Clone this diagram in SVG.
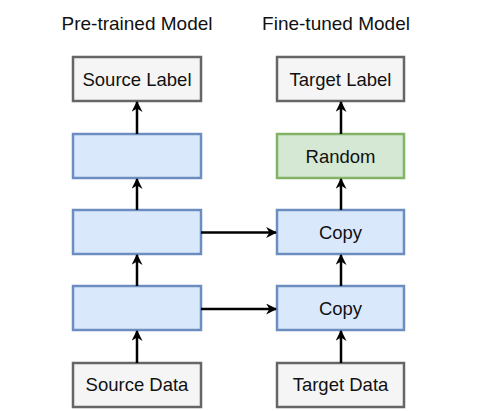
<svg xmlns="http://www.w3.org/2000/svg" width="495" height="411" viewBox="0 0 495 411">
<defs>
<marker id="ah" viewBox="0 0 10 10" refX="9" refY="5" markerWidth="4.4" markerHeight="4.4" orient="auto" markerUnits="strokeWidth">
<path d="M0,0 L10,5 L0,10 L3,5 Z" fill="#000"/>
</marker>
</defs>
<style>
text{font-family:"Liberation Sans",Arial,Helvetica,sans-serif;fill:#111;text-anchor:middle}
.t{font-size:19px}
.l{font-size:18.5px}
.g{fill:#f5f5f5;stroke:#666;stroke-width:2.5}
.b{fill:#dae8fc;stroke:#6c8ebf;stroke-width:2.5}
.gr{fill:#d5e8d4;stroke:#82b366;stroke-width:2.5}
.c{stroke:#000;stroke-width:2.5;fill:none;marker-end:url(#ah)}
</style>
<rect width="495" height="411" fill="#fff"/>
<text class="t" x="137" y="30">Pre-trained Model</text>
<text class="t" x="336" y="30">Fine-tuned Model</text>
<g id="source-label"><rect class="g" x="73" y="57" width="128" height="44"/><text class="l" x="137" y="86">Source Label</text></g>
<g id="pre-l3"><rect class="b" x="73" y="134" width="128" height="44"/></g>
<g id="pre-l2"><rect class="b" x="73" y="210" width="128" height="44"/></g>
<g id="pre-l1"><rect class="b" x="73" y="286" width="128" height="44"/></g>
<g id="source-data"><rect class="g" x="73" y="363" width="128" height="44"/><text class="l" x="137" y="391">Source Data</text></g>
<g id="target-label"><rect class="g" x="277" y="57" width="127" height="44"/><text class="l" x="340.5" y="86">Target Label</text></g>
<g id="random"><rect class="gr" x="277" y="134" width="127" height="44"/><text class="l" x="340.5" y="163">Random</text></g>
<g id="copy2"><rect class="b" x="277" y="210" width="127" height="44"/><text class="l" x="340.5" y="239">Copy</text></g>
<g id="copy1"><rect class="b" x="277" y="286" width="127" height="44"/><text class="l" x="340.5" y="315">Copy</text></g>
<g id="target-data"><rect class="g" x="277" y="363" width="127" height="44"/><text class="l" x="340.5" y="391">Target Data</text></g>
<g id="connectors">
<line class="c" x1="137" y1="134" x2="137" y2="102"/>
<line class="c" x1="137" y1="210" x2="137" y2="179"/>
<line class="c" x1="137" y1="286" x2="137" y2="255"/>
<line class="c" x1="137" y1="363" x2="137" y2="331"/>
<line class="c" x1="341" y1="134" x2="341" y2="102"/>
<line class="c" x1="341" y1="210" x2="341" y2="179"/>
<line class="c" x1="341" y1="286" x2="341" y2="255"/>
<line class="c" x1="341" y1="363" x2="341" y2="331"/>
<line class="c" x1="201" y1="232.5" x2="276" y2="232.5"/>
<line class="c" x1="201" y1="309" x2="276" y2="309"/>
</g>
</svg>
